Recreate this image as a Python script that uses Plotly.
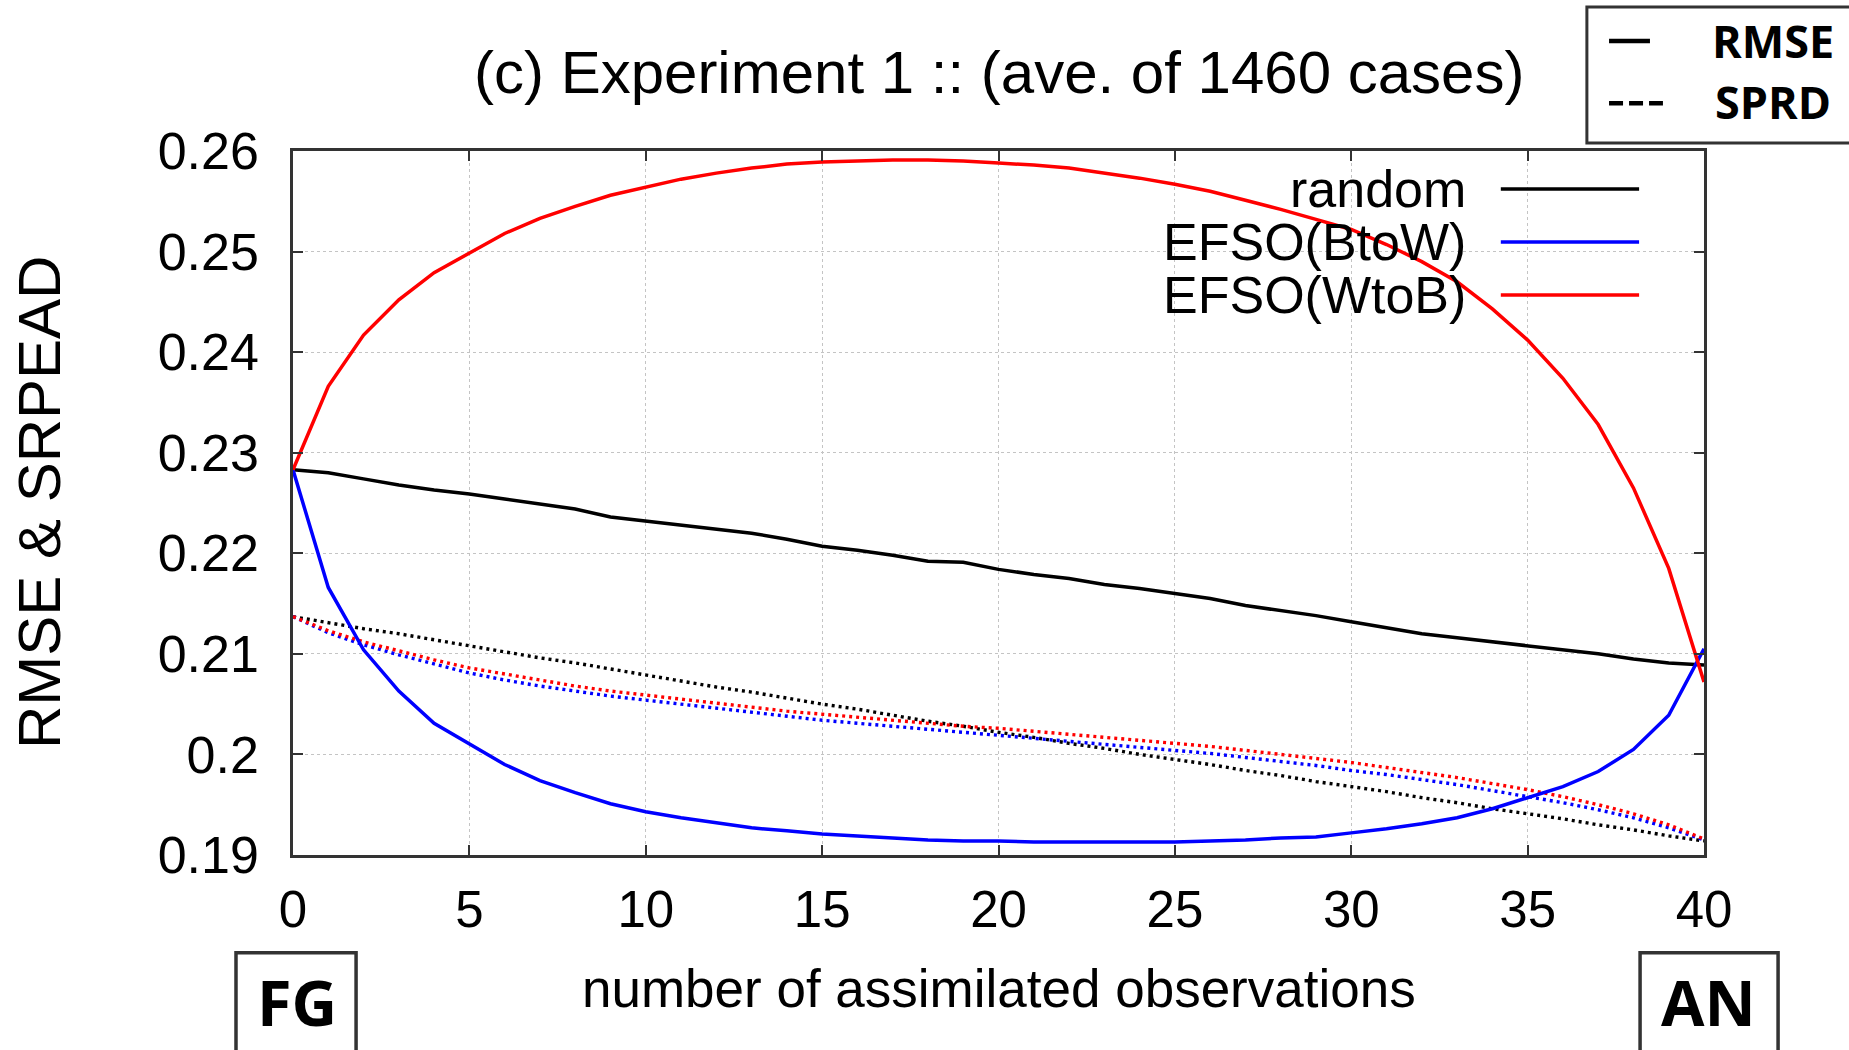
import plotly.graph_objects as go

# number of assimilated observations (0 = first guess, 40 = analysis)
n_obs = list(range(0, 41))

# RMSE curves
rmse_random = [0.2283, 0.2280, 0.2274, 0.2268, 0.2263, 0.2259, 0.2254, 0.2249, 0.2244, 0.2236,
               0.2232, 0.2228, 0.2224, 0.2220, 0.2214, 0.2207, 0.2203, 0.2198, 0.2192, 0.2191,
               0.2184, 0.2179, 0.2175, 0.2169, 0.2165, 0.2160, 0.2155, 0.2148, 0.2143, 0.2138,
               0.2132, 0.2126, 0.2120, 0.2116, 0.2112, 0.2108, 0.2104, 0.2100, 0.2095, 0.2091,
               0.2089]
rmse_btow = [0.2283, 0.2166, 0.2104, 0.2063, 0.2031, 0.2011, 0.1990, 0.1974, 0.1962, 0.1951,
             0.1943, 0.1937, 0.1932, 0.1927, 0.1924, 0.1921, 0.1919, 0.1917, 0.1915, 0.1914,
             0.1914, 0.1913, 0.1913, 0.1913, 0.1913, 0.1913, 0.1914, 0.1915, 0.1917, 0.1918,
             0.1922, 0.1926, 0.1931, 0.1937, 0.1946, 0.1957, 0.1968, 0.1983, 0.2005, 0.2039,
             0.2105]
rmse_wtob = [0.2283, 0.2366, 0.2417, 0.2452, 0.2479, 0.2499, 0.2518, 0.2533, 0.2545, 0.2556,
             0.2564, 0.2572, 0.2578, 0.2583, 0.2587, 0.2589, 0.2590, 0.2591, 0.2591, 0.2590,
             0.2588, 0.2586, 0.2583, 0.2578, 0.2573, 0.2567, 0.2560, 0.2551, 0.2542, 0.2532,
             0.2522, 0.2507, 0.2490, 0.2470, 0.2443, 0.2412, 0.2374, 0.2328, 0.2265, 0.2185,
             0.2072]

# ensemble spread curves
sprd_random = [0.2137, 0.2131, 0.2125, 0.2120, 0.2114, 0.2108, 0.2102, 0.2096, 0.2091, 0.2085,
               0.2079, 0.2073, 0.2067, 0.2062, 0.2056, 0.2050, 0.2045, 0.2039, 0.2033, 0.2028,
               0.2022, 0.2017, 0.2011, 0.2006, 0.2000, 0.1995, 0.1990, 0.1984, 0.1979, 0.1973,
               0.1968, 0.1963, 0.1957, 0.1952, 0.1946, 0.1941, 0.1936, 0.1930, 0.1925, 0.1919,
               0.1914]
sprd_btow = [0.2137, 0.2121, 0.2109, 0.2099, 0.2090, 0.2081, 0.2074, 0.2068, 0.2063, 0.2058,
             0.2054, 0.2050, 0.2046, 0.2042, 0.2038, 0.2034, 0.2031, 0.2028, 0.2025, 0.2022,
             0.2019, 0.2016, 0.2013, 0.2010, 0.2007, 0.2004, 0.2001, 0.1997, 0.1993, 0.1989,
             0.1984, 0.1980, 0.1975, 0.1970, 0.1964, 0.1958, 0.1952, 0.1945, 0.1937, 0.1927,
             0.1915]
sprd_wtob = [0.2137, 0.2123, 0.2112, 0.2103, 0.2094, 0.2086, 0.2080, 0.2074, 0.2068, 0.2063,
             0.2059, 0.2055, 0.2051, 0.2047, 0.2043, 0.2040, 0.2037, 0.2034, 0.2031, 0.2028,
             0.2026, 0.2023, 0.2020, 0.2017, 0.2014, 0.2011, 0.2008, 0.2004, 0.2000, 0.1996,
             0.1992, 0.1987, 0.1982, 0.1977, 0.1971, 0.1965, 0.1958, 0.1950, 0.1941, 0.1930,
             0.1916]

series_names = ["random", "EFSO(BtoW)", "EFSO(WtoB)"]
series_colors = ["#000000", "#0000ff", "#ff0000"]

x_ticks = [0, 5, 10, 15, 20, 25, 30, 35, 40]
y_ticks = [0.19, 0.20, 0.21, 0.22, 0.23, 0.24, 0.25, 0.26]
y_ticktext = ["0.19", "0.2", "0.21", "0.22", "0.23", "0.24", "0.25", "0.26"]

FONT = "Liberation Sans, Arial, sans-serif"
BOLD_FONT = "Open Sans, Noto Sans, sans-serif"
AXIS_COLOR = "#333333"

fig = go.Figure()

# spread (dotted) first so RMSE lines sit on top
for name, color, ys in zip(series_names, series_colors, [sprd_random, sprd_btow, sprd_wtob]):
    fig.add_trace(go.Scatter(x=n_obs, y=ys, mode="lines", name=name + " SPRD",
                             line=dict(color=color, width=3.4, dash="3px,4px"),
                             showlegend=False))
for name, color, ys in zip(series_names, series_colors, [rmse_random, rmse_btow, rmse_wtob]):
    fig.add_trace(go.Scatter(x=n_obs, y=ys, mode="lines", name=name + " RMSE",
                             line=dict(color=color, width=3.5),
                             showlegend=False))

shapes = []
annotations = []

# key inside the plot: white patch hiding grid, text on the left, sample line on the right
shapes.append(dict(type="rect", xref="paper", yref="paper", x0=0.607, x1=0.969, y0=0.7457, y1=0.987,
                   fillcolor="white", line=dict(width=0), layer="between"))
key_rows = [0.946, 0.8707, 0.7955]
for name, color, yk in zip(series_names, series_colors, key_rows):
    annotations.append(dict(xref="paper", yref="paper", x=0.8327, y=yk, text=name,
                            xanchor="right", yanchor="middle", showarrow=False,
                            font=dict(family=FONT, size=52, color="black")))
    shapes.append(dict(type="line", xref="paper", yref="paper", x0=0.856, x1=0.954, y0=yk, y1=yk,
                       line=dict(color=color, width=3.5)))

# line-style key box at the top right
shapes.append(dict(type="rect", xref="paper", yref="paper", x0=0.917, x1=1.11, y0=1.0114, y1=1.2045,
                   line=dict(color=AXIS_COLOR, width=3), fillcolor="white"))
shapes.append(dict(type="line", xref="paper", yref="paper", x0=0.9327, x1=0.9617, y0=1.1563, y1=1.1563,
                   line=dict(color="black", width=4.5)))
shapes.append(dict(type="line", xref="paper", yref="paper", x0=0.9327, x1=0.9709, y0=1.068, y1=1.068,
                   line=dict(color="black", width=4.5, dash="14px,6px")))
annotations.append(dict(xref="paper", yref="paper", x=1.0043, y=1.1563, text="<b>RMSE</b>",
                        xanchor="left", yanchor="middle", showarrow=False,
                        font=dict(family=BOLD_FONT, size=45, color="black")))
annotations.append(dict(xref="paper", yref="paper", x=1.0065, y=1.071, text="<b>SPRD</b>",
                        xanchor="left", yanchor="middle", showarrow=False,
                        font=dict(family=BOLD_FONT, size=45, color="black")))

# FG / AN boxes under the axis ends
for x0, x1, label, xc in [(-0.0404, 0.0447, "FG", 0.0028), (0.9547, 1.0525, "AN", 1.0035)]:
    shapes.append(dict(type="rect", xref="paper", yref="paper", x0=x0, x1=x1, y0=-0.30, y1=-0.139,
                       line=dict(color=AXIS_COLOR, width=3.5), fillcolor="white"))
    annotations.append(dict(xref="paper", yref="paper", x=xc, y=-0.208, text="<b>" + label + "</b>",
                            xanchor="center", yanchor="middle", showarrow=False,
                            font=dict(family=BOLD_FONT, size=63, color="black")))

# title and axis titles
annotations.append(dict(xref="paper", yref="paper", x=0.5, y=1.111,
                        text="(c) Experiment 1 :: (ave. of 1460 cases)",
                        xanchor="center", yanchor="middle", showarrow=False,
                        font=dict(family=FONT, size=60, color="black")))
annotations.append(dict(xref="paper", yref="paper", x=0.5, y=-0.189,
                        text="number of assimilated observations",
                        xanchor="center", yanchor="middle", showarrow=False,
                        font=dict(family=FONT, size=53, color="black")))
annotations.append(dict(xref="paper", yref="paper", x=0, xshift=-254, y=0.5,
                        text="RMSE &amp; SRPEAD", textangle=-90,
                        xanchor="center", yanchor="middle", showarrow=False,
                        font=dict(family=FONT, size=60, color="black")))

fig.update_layout(
    width=1849, height=1050,
    margin=dict(l=293, r=145, t=151, b=195),
    paper_bgcolor="white", plot_bgcolor="white",
    shapes=shapes, annotations=annotations,
    showlegend=False,
)
fig.update_xaxes(range=[0, 40], tickvals=x_ticks, ticks="inside", ticklen=10, tickwidth=2,
                 tickcolor=AXIS_COLOR, showline=True, linecolor=AXIS_COLOR, linewidth=2.5,
                 mirror="ticks", showgrid=True, gridcolor="#c4c4c4", gridwidth=1, griddash="dot",
                 zeroline=False, tickfont=dict(family=FONT, size=51, color="black"),
                 ticklabelstandoff=8)
fig.update_yaxes(range=[0.19, 0.26], tickvals=y_ticks, ticktext=y_ticktext, ticks="inside",
                 ticklen=10, tickwidth=2, tickcolor=AXIS_COLOR, showline=True,
                 linecolor=AXIS_COLOR, linewidth=2.5, mirror="ticks", showgrid=True,
                 gridcolor="#c4c4c4", gridwidth=1, griddash="dot", zeroline=False,
                 tickfont=dict(family=FONT, size=52, color="black"), ticklabelstandoff=21)

fig.write_html("out.html")
